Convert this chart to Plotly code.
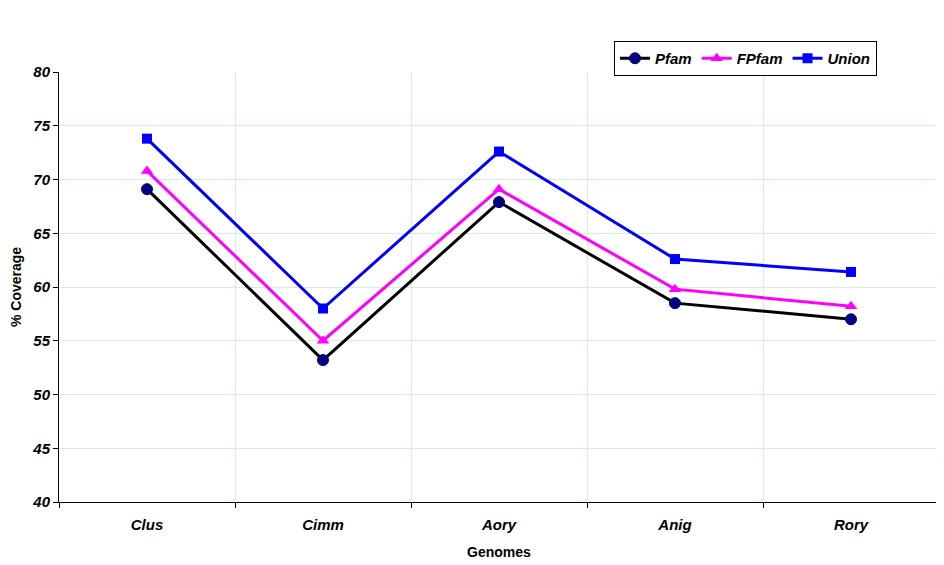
import plotly.graph_objects as go

genomes = ["Clus", "Cimm", "Aory", "Anig", "Rory"]
pfam = [69.1, 53.2, 67.9, 58.5, 57.0]
fpfam = [70.8, 55.0, 69.1, 59.8, 58.2]
union = [73.8, 58.0, 72.6, 62.6, 61.4]
y_ticks = [40, 45, 50, 55, 60, 65, 70, 75, 80]

FONT = "Liberation Sans, Arial, sans-serif"

fig = go.Figure()
fig.add_trace(go.Scatter(x=genomes, y=pfam, name="Pfam", mode="lines+markers",
                         line=dict(color="black", width=3),
                         marker=dict(symbol="circle", size=11, color="#000080",
                                     line=dict(color="#000080", width=1))))
fig.add_trace(go.Scatter(x=genomes, y=fpfam, name="FPfam", mode="lines+markers",
                         line=dict(color="#FF00FF", width=3),
                         marker=dict(symbol="triangle-up", size=11, color="#FF00FF")))
fig.add_trace(go.Scatter(x=genomes, y=union, name="Union", mode="lines+markers",
                         line=dict(color="#0000FF", width=3),
                         marker=dict(symbol="square", size=10, color="#0000FF")))

fig.update_layout(
    width=944, height=565,
    margin=dict(l=51, r=13, t=64, b=71, autoexpand=False),
    paper_bgcolor="white", plot_bgcolor="white",
    font=dict(family=FONT, color="black"),
    showlegend=True,
    legend=dict(orientation="h", xref="container", x=606/944, xanchor="left",
                yref="container", y=1 - 33/565, yanchor="top",
                bordercolor="black", borderwidth=1, bgcolor="white",
                font=dict(size=15, weight="bold", style="italic"),
                itemwidth=30, tracegroupgap=0),
    xaxis=dict(type="category", range=[-0.5, 4.5], tickson="boundaries",
               automargin=False,
               showgrid=True, gridcolor="#D3F2D3", gridwidth=1,
               showline=True, linecolor="black", linewidth=1,
               ticks="outside", ticklen=5, tickcolor="black",
               ticklabelstandoff=9,
               tickfont=dict(size=15, weight="bold", style="italic"),
               title=dict(text="Genomes", font=dict(size=14, weight="bold"), standoff=15),
               zeroline=False),
    yaxis=dict(range=[40, 80], tickvals=y_ticks, ticktext=[str(v) for v in y_ticks],
               automargin=False,
               showgrid=True, gridcolor="#D3F2D3", gridwidth=1,
               showline=True, linecolor="black", linewidth=1,
               ticks="outside", ticklen=5, tickcolor="black",
               tickfont=dict(size=15, weight="bold", style="italic"),
               title=dict(text="% Coverage", font=dict(size=14, weight="bold"), standoff=24),
               zeroline=False),
)

fig.write_html("out.html")
